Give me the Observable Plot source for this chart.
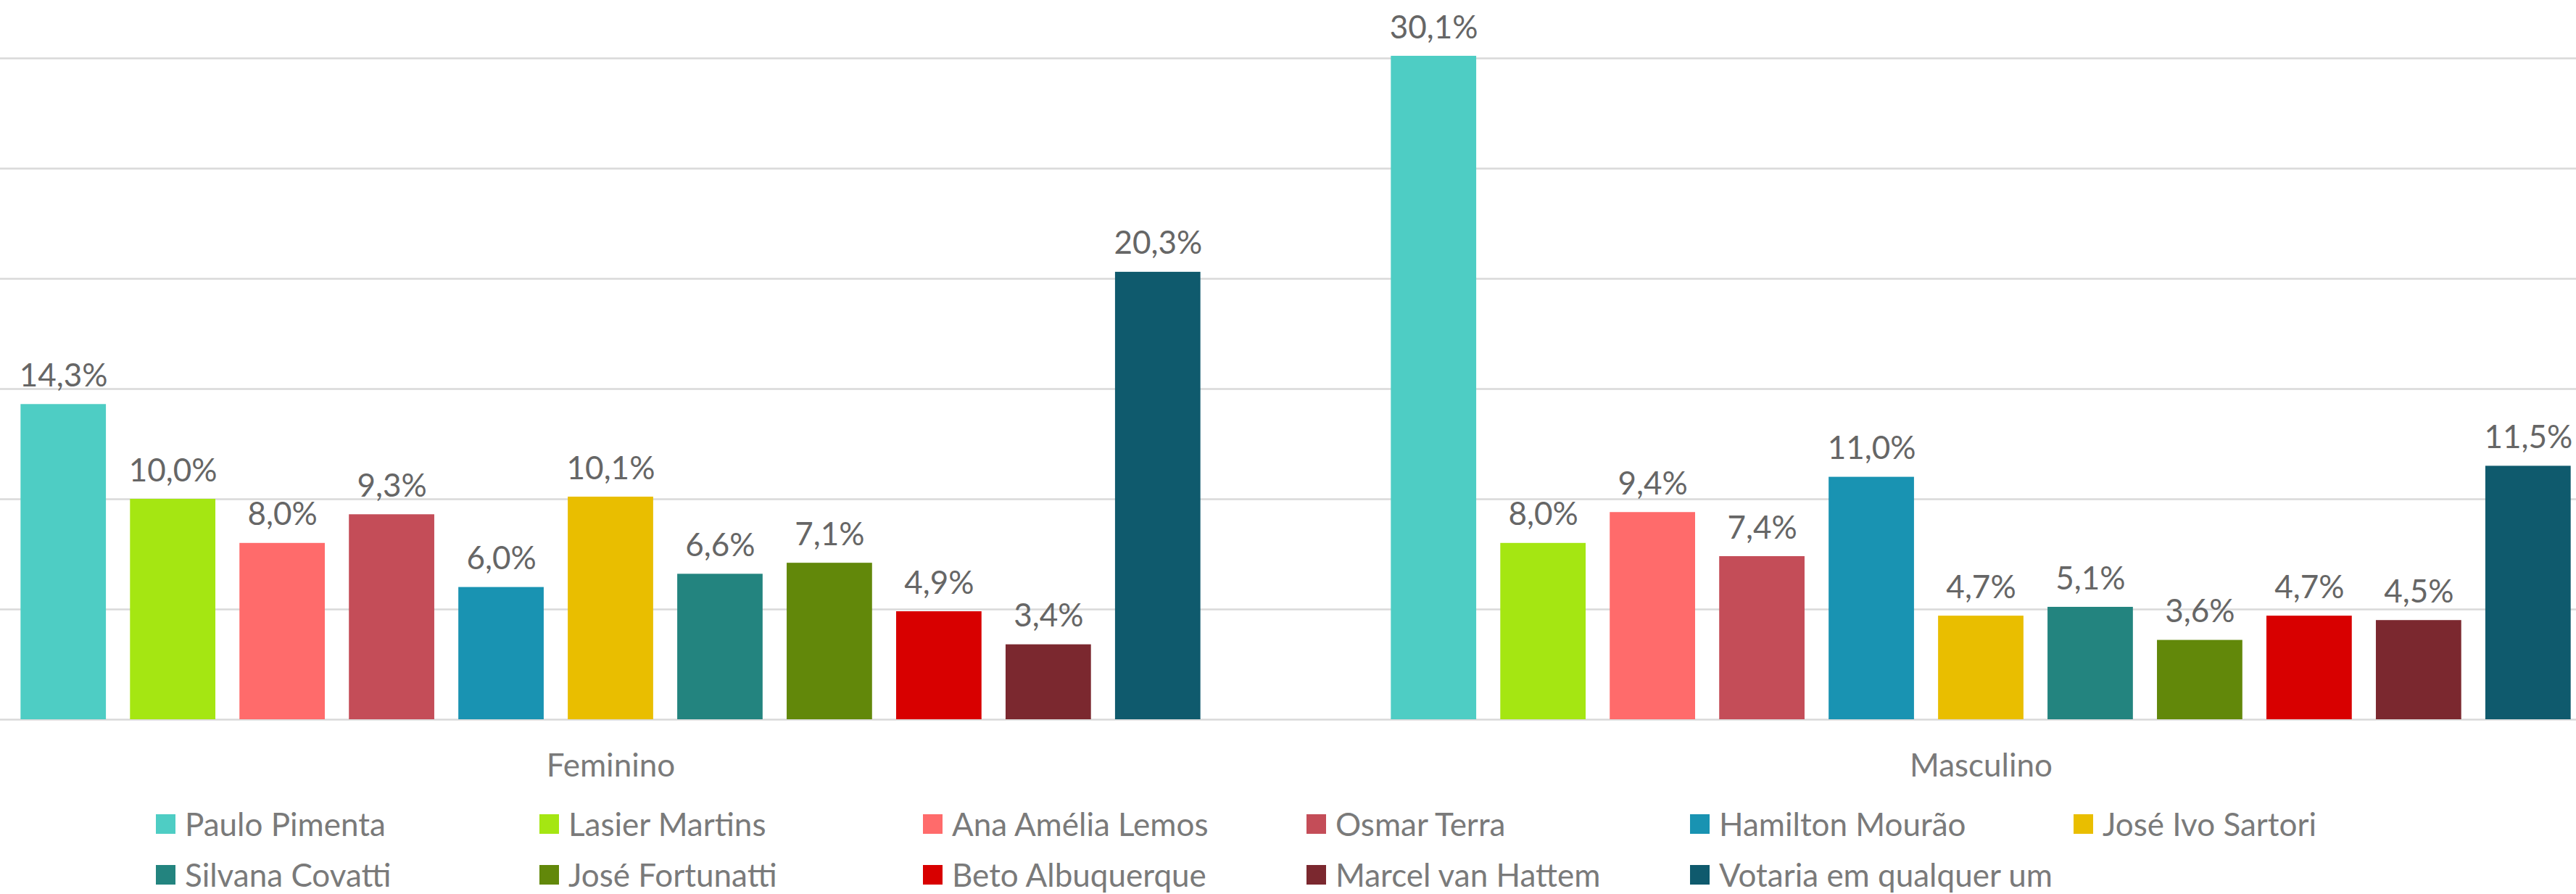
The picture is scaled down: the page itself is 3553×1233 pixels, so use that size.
<!DOCTYPE html>
<html>
<head>
<meta charset="utf-8">
<script src="https://cdn.jsdelivr.net/npm/d3@7"></script>
<script src="https://cdn.jsdelivr.net/npm/@observablehq/plot@0.6"></script>
<style>
  html, body { margin: 0; padding: 0; background: #fff; }
  #wrap { width: 3553px; height: 1233px; overflow: hidden; font-family: Lato, "Open Sans", sans-serif; }
  #chart svg { display: block; }
  #legend { display: grid; grid-template-columns: repeat(6, 529px); grid-auto-rows: 70px; padding-left: 215px; padding-top: 11px; }
  .item { display: flex; align-items: center; font-size: 44px; color: #7a7a7a; white-space: nowrap; line-height: 1; }
  .sw { width: 27px; height: 27px; margin-right: 13px; flex: none; }
</style>
</head>
<body>
<div id="wrap">
  <div id="chart"></div>
  <div id="legend"></div>
</div>
<script>
const groups = ["Feminino", "Masculino"];
const candidates = ["Paulo Pimenta", "Lasier Martins", "Ana Amélia Lemos", "Osmar Terra", "Hamilton Mourão", "José Ivo Sartori", "Silvana Covatti", "José Fortunatti", "Beto Albuquerque", "Marcel van Hattem", "Votaria em qualquer um"];
const feminino = [14.3, 10.0, 8.0, 9.3, 6.0, 10.1, 6.6, 7.1, 4.9, 3.4, 20.3];
const masculino = [30.1, 8.0, 9.4, 7.4, 11.0, 4.7, 5.1, 3.6, 4.7, 4.5, 11.5];
const colors = ["#4ECDC4", "#A5E612", "#FF6B6B", "#C44D58", "#1993B2", "#E9BE00", "#23847F", "#62880A", "#D80000", "#7B282F", "#0F5A6D"];
const gridTicks = [0, 5, 10, 15, 20, 25, 30];

const data = [];
candidates.forEach((c, i) => {
  data.push({gender: groups[0], candidate: c, value: feminino[i]});
  data.push({gender: groups[1], candidate: c, value: masculino[i]});
});

const fmt = v => v.toFixed(1).replace(".", ",") + "%";

const chart = Plot.plot({
  width: 3553,
  height: 1090,
  marginTop: 80,
  marginBottom: 98,
  marginLeft: 0,
  marginRight: 0,
  style: {fontFamily: "Lato, 'Open Sans', sans-serif", fontSize: "44px", background: "white", overflow: "visible"},
  fx: {domain: groups, range: [-103, 3677], padding: 0, round: false, axis: null},
  x: {domain: candidates, paddingInner: 0.22, paddingOuter: 0.87, round: false, axis: null},
  y: {domain: [0, 30], axis: null},
  color: {domain: candidates, range: colors},
  marks: [
    Plot.ruleY(gridTicks, {stroke: "#d9d9d9", strokeWidth: 2.5}),
    Plot.barY(data, {fx: "gender", x: "candidate", y: "value", fill: "candidate"}),
    Plot.text(data, {fx: "gender", x: "candidate", y: "value", text: d => fmt(d.value), dy: -39, fill: "#666666", fontSize: 44}),
    Plot.text(groups, {fx: d => d, text: d => d, frameAnchor: "bottom", lineAnchor: "middle", dy: 64, fill: "#7a7a7a", fontSize: 44})
  ]
});
document.getElementById("chart").appendChild(chart);

const legend = document.getElementById("legend");
candidates.forEach((c, i) => {
  const item = document.createElement("div");
  item.className = "item";
  const sw = document.createElement("span");
  sw.className = "sw";
  sw.style.background = colors[i];
  item.appendChild(sw);
  item.appendChild(document.createTextNode(c));
  legend.appendChild(item);
});
</script>
</body>
</html>
